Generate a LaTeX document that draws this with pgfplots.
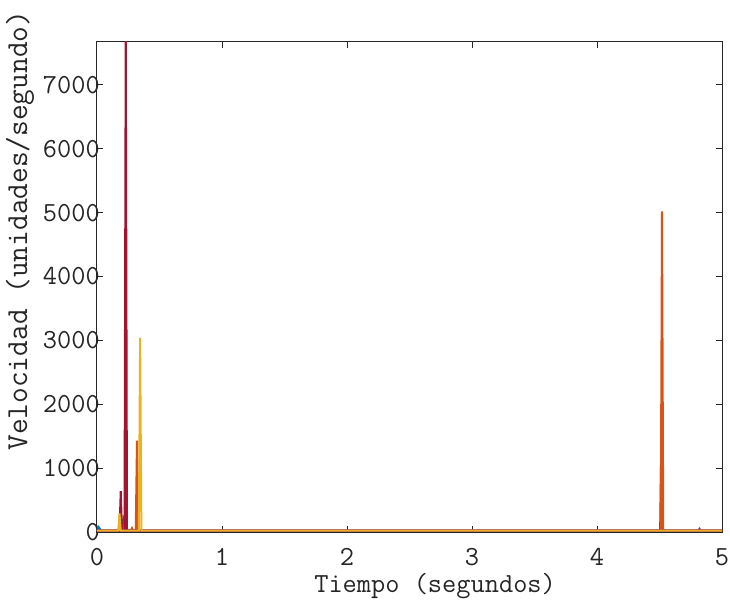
\documentclass[border=0pt]{standalone}
\usepackage{pgfplots}
\pgfplotsset{compat=1.18}
\usetikzlibrary{calc}
\usepackage{fontspec}
\definecolor{mblue}{rgb}{0,0.447,0.741}
\definecolor{morange}{rgb}{0.850,0.325,0.098}
\definecolor{myellow}{rgb}{0.929,0.694,0.125}
\definecolor{mpurple}{rgb}{0.494,0.184,0.556}
\definecolor{mred}{rgb}{0.635,0.078,0.184}
\definecolor{axgray}{rgb}{0.15,0.15,0.15}
\begin{document}
\begin{tikzpicture}
\begin{axis}[
  scale only axis, width=625bp, height=490bp,
  xmin=0, xmax=5, ymin=0, ymax=7670,
  xtick={0,1,2,3,4,5}, ytick={0,1000,2000,3000,4000,5000,6000,7000},
  tick align=inside, major tick length=6bp,
  axis line style={axgray, line width=1bp},
  every tick/.style={axgray, line width=1bp},
  /pgf/number format/assume math mode=true,
  /pgf/number format/1000 sep={},
  tick label style={font=\ttfamily\fontsize{27.6bp}{32bp}\selectfont, text=axgray},
  yticklabel style={anchor=east, inner sep=0pt, xshift=3bp},
  xticklabel style={anchor=north, inner sep=0pt, yshift=-16bp},
  xlabel={Tiempo (segundos)},
  ylabel={Velocidad (unidades/segundo)},
  xlabel style={font=\ttfamily\fontsize{27.6bp}{32bp}\selectfont, text=axgray,
    at={(axis description cs:0.541,0)}, anchor=base, yshift=-60bp, inner sep=0pt},
  ylabel style={font=\ttfamily\fontsize{30.5bp}{34bp}\selectfont, text=axgray,
    at={(axis description cs:-0.123,0.615)}, anchor=center},
  clip=true,
  every axis plot/.append style={line width=2bp, mark=none},
]
\coordinate (bl) at (rel axis cs:0,0);
\coordinate (tr) at (rel axis cs:1,1);
% blue
\addplot[mblue] coordinates {(0,20)(0.005,40)(0.01,80)(0.02,60)(0.03,20)(0.04,20)(0.19,20)(0.2,120)(0.21,190)(0.22,20)(4.505,20)(4.515,1500)(4.525,20)(5,20)};
% orange
\addplot[morange] coordinates {(0,20)(0.2,20)(0.21,80)(0.22,20)(0.27,20)(0.28,60)(0.29,20)(0.31,20)(0.32,1430)(0.33,20)(4.51,20)(4.52,5020)(4.53,20)(5,20)};
% dark red
\addplot[mred] coordinates {(0,20)(0.18,20)(0.19,640)(0.20,20)(0.22,20)(0.23,7900)(0.24,20)(5,20)};
% purple
\addplot[mpurple] coordinates {(0,20)(4.81,20)(4.82,50)(4.83,20)(5,20)};
% yellow
\addplot[myellow] coordinates {(0,20)(0.17,20)(0.18,290)(0.19,20)(0.335,20)(0.345,3040)(0.355,20)(5,20)};
\end{axis}
\pgfresetboundingbox
\path[use as bounding box] ($(bl)+(-97bp,-75bp)$) rectangle ($(tr)+(8bp,42bp)$);
\end{tikzpicture}
\end{document}
